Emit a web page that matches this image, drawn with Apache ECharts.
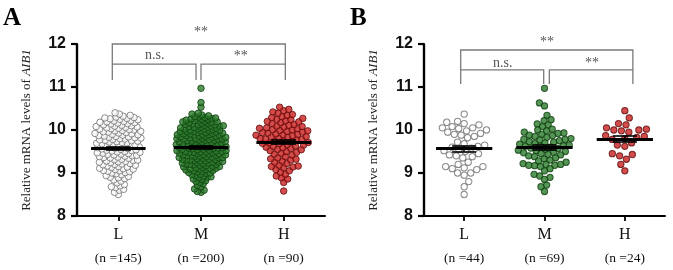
<!DOCTYPE html>
<html><head><meta charset="utf-8">
<script src="https://cdn.jsdelivr.net/npm/echarts@6/dist/echarts.min.js"></script>
<style>html,body{margin:0;padding:0;background:#fff}#c{width:673px;height:270px}</style>
</head><body><div id="c"></div>
<script>
// ---------- data ----------
const categories = ['L', 'M', 'H'];
const yTicks = [8, 9, 10, 11, 12];
const panelTitles = ['A', 'B'];
const sigLabels = ['**', 'n.s.', '**'];

const panelA_L = [8.50,8.55,8.60,8.62,8.66,8.68,8.70,8.73,8.77,8.81,8.84,8.87,8.89,8.90,8.92,8.94,8.96,8.98,
 9.00,9.01,9.03,9.04,9.05,9.06,9.08,9.09,9.10,9.11,9.13,9.14,9.15,9.16,9.18,9.19,
 9.20,9.21,9.22,9.24,9.25,9.26,9.27,9.28,9.29,9.30,9.31,9.32,9.34,9.35,9.36,9.37,9.38,9.39,
 9.40,9.41,9.42,9.43,9.44,9.45,9.46,9.47,9.48,9.49,9.50,9.51,9.52,9.53,9.54,9.55,9.56,9.57,9.58,9.59,
 9.60,9.61,9.62,9.63,9.64,9.65,9.66,9.67,9.68,9.69,9.70,9.71,9.72,9.73,9.74,9.75,9.76,9.77,9.78,9.79,
 9.80,9.81,9.82,9.83,9.84,9.85,9.86,9.87,9.88,9.89,9.90,9.91,9.92,9.93,9.94,9.95,9.96,9.97,9.98,9.99,
 10.00,10.01,10.02,10.03,10.04,10.05,10.06,10.07,10.08,10.09,10.10,10.11,10.12,10.14,10.15,10.16,10.17,10.18,10.19,
 10.20,10.21,10.22,10.24,10.25,10.26,10.27,10.28,10.29,10.30,10.32,10.34,10.37,10.40];
const panelA_M = [8.55,8.57,8.60,8.63,8.68,8.71,8.75,8.78,8.80,8.82,8.85,8.86,8.89,8.90,8.91,8.93,8.94,8.96,8.97,8.99,
 9.00,9.01,9.02,9.04,9.05,9.06,9.07,9.08,9.09,9.10,9.11,9.11,9.12,9.13,9.14,9.15,9.16,9.17,9.18,9.19,
 9.20,9.20,9.21,9.22,9.23,9.23,9.24,9.25,9.26,9.27,9.28,9.28,9.29,
 9.30,9.30,9.31,9.32,9.32,9.33,9.34,9.35,9.36,9.36,9.37,9.38,9.39,9.39,
 9.40,9.40,9.41,9.42,9.42,9.43,9.44,9.45,9.45,9.46,9.47,9.48,9.48,9.49,9.49,
 9.50,9.50,9.51,9.52,9.52,9.53,9.54,9.55,9.55,9.56,9.57,9.58,9.58,9.59,9.59,
 9.60,9.60,9.61,9.62,9.62,9.63,9.64,9.65,9.65,9.66,9.67,9.68,9.68,9.69,9.69,
 9.70,9.71,9.71,9.72,9.73,9.73,9.74,9.75,9.76,9.76,9.77,9.78,9.78,9.79,9.79,
 9.80,9.80,9.81,9.82,9.83,9.83,9.84,9.85,9.85,9.86,9.87,9.88,9.88,9.89,9.89,
 9.90,9.91,9.91,9.92,9.93,9.94,9.94,9.95,9.96,9.96,9.97,9.98,9.98,9.99,
 10.00,10.01,10.02,10.02,10.03,10.04,10.05,10.06,10.06,10.07,10.08,10.09,10.09,
 10.10,10.11,10.12,10.12,10.13,10.14,10.15,10.16,10.17,10.18,10.19,10.19,
 10.20,10.21,10.22,10.23,10.24,10.25,10.26,10.27,10.28,10.29,
 10.30,10.31,10.33,10.35,10.37,10.39,10.53,10.64,10.97];
const panelA_H = [8.58,8.78,8.86,8.89,8.93,8.97,9.02,9.05,9.08,9.12,9.14,9.15,9.16,9.18,9.22,9.25,9.28,
 9.30,9.32,9.33,9.35,9.38,9.42,9.44,9.46,9.48,9.50,9.52,9.54,9.55,9.57,9.59,
 9.60,9.62,9.63,9.65,9.66,9.68,9.69,9.70,9.71,9.73,9.74,9.75,9.77,9.78,9.79,
 9.80,9.81,9.83,9.84,9.85,9.87,9.88,9.89,9.90,9.91,9.93,9.94,9.95,9.97,9.98,9.99,
 10.00,10.01,10.03,10.04,10.05,10.07,10.08,10.09,10.11,10.13,10.15,10.17,10.19,
 10.20,10.22,10.24,10.25,10.27,10.29,10.31,10.34,10.36,10.39,10.42,10.45,10.48,10.53];
const panelB_L = [10.37,10.20,10.18,10.15,10.12,10.08,10.05,10.05,10.03,10.00,
 9.98,9.95,9.92,9.90,9.88,9.85,9.82,9.72,9.68,9.65,
 9.62,9.60,9.58,9.55,9.52,9.50,9.45,9.42,9.40,9.38,
 9.35,9.25,9.20,9.15,9.15,9.12,9.10,9.08,9.00,9.00,8.95,8.80,8.68,8.50];
const panelB_M = [10.97,10.63,10.56,10.34,10.24,10.22,10.14,10.12,10.08,
 10.02,10.00,9.98,9.95,9.93,9.92,9.90,9.88,9.87,9.85,
 9.83,9.80,9.78,9.78,9.77,9.75,9.73,9.72,9.70,9.68,9.67,
 9.65,9.63,9.62,9.62,9.60,9.58,9.57,9.55,9.53,9.52,9.50,
 9.48,9.47,9.45,9.43,9.42,9.40,9.38,9.35,9.33,9.30,
 9.28,9.25,9.22,9.20,9.20,9.18,9.18,9.17,9.15,9.10,
 9.05,8.97,8.93,8.90,8.85,8.72,8.68,8.57];
const panelB_H = [10.45,10.28,10.15,10.12,10.05,10.02,10.00,10.00,9.98,9.95,9.87,9.85,
 9.83,9.80,9.78,9.70,9.65,9.62,9.45,9.43,9.40,9.32,9.20,9.05];

// ---------- layout / style ----------
const panels = [
  { groups: [panelA_L, panelA_M, panelA_H], grid: {left: 77, top: 44, width: 248, height: 172},
    sym: 6.5, gap: 0.3, maxW: [58, 58, 62], meanHalf: 0.33,
    brackets: [[[-0.073,11.16],[-0.073,12.0],[2.02,12.0],[2.02,11.16]],
               [[-0.073,11.53],[0.94,11.53],[0.94,11.16]],
               [[1.0,11.16],[1.0,11.53],[2.02,11.53]]],
    labelPos: [[1.0,12.27],[0.44,11.74],[1.48,11.72]] },
  { groups: [panelB_L, panelB_M, panelB_H], grid: {left: 424, top: 44, width: 241, height: 172},
    sym: 6.3, gap: 3.2, maxW: [54, 60, 50], meanHalf: 0.35,
    brackets: [[[-0.043,11.07],[-0.043,11.86],[2.1,11.86],[2.1,11.07]],
               [[-0.043,11.4],[0.99,11.4],[0.99,11.07]],
               [[1.06,11.07],[1.06,11.4],[2.1,11.4]]],
    labelPos: [[1.03,12.04],[0.48,11.56],[1.59,11.54]] }
];
const groupStyles = [
  {color: '#ffffff', borderColor: '#6e6e6e', borderWidth: 1},
  {color: '#2b7a2b', borderColor: '#0f3f0f', borderWidth: 1},
  {color: '#c8201f', borderColor: '#5e0b0b', borderWidth: 1}
];
const axisColor = '#000';
const X0 = 0.5;
const tickLen = 6;

function swarm(values, pxY, size, gap, maxW) {
  let d = size + gap;
  let res;
  while (true) {
    const order = values.map((v, i) => i).sort((a, b) => values[a] - values[b]);
    const placed = [];
    res = new Array(values.length);
    let flip = 1;
    for (const i of order) {
      const y = values[i] * pxY;
      const iv = [];
      for (const p of placed) {
        const dy = Math.abs(p.y - y);
        if (dy < d) { const w = Math.sqrt(d * d - dy * dy); iv.push([p.x - w, p.x + w]); }
      }
      const cands = [0];
      iv.forEach(a => { cands.push(a[0], a[1]); });
      cands.sort((a, b) => (Math.abs(a) - Math.abs(b)) || (flip * (b - a)));
      let x = 0;
      for (const c of cands) {
        if (!iv.some(a => c > a[0] + 1e-6 && c < a[1] - 1e-6)) { x = c; break; }
      }
      flip = -flip;
      placed.push({x, y});
      res[i] = x;
    }
    const w = 2 * Math.max(...res.map(Math.abs)) + size;
    if (w <= maxW || d < 2) break;
    d -= 0.1;
  }
  return res;
}
const mean = a => a.reduce((s, v) => s + v, 0) / a.length;
const sem = a => { const m = mean(a); const sd = Math.sqrt(a.reduce((s, v) => s + (v - m) * (v - m), 0) / (a.length - 1)); return sd / Math.sqrt(a.length); };
const sx = pt => [pt[0] + X0, pt[1]];

const chart = echarts.init(document.getElementById('c'), null, {renderer: 'canvas'});
const serif = '"Liberation Serif","Times New Roman",serif';

const xAxes = [], yAxes = [], grids = [], series = [];
panels.forEach((P, pi) => {
  grids.push(Object.assign({}, P.grid));
  xAxes.push({
    type: 'category', gridIndex: pi, data: categories, position: 'bottom',
    axisLine: {show: true, onZero: false, lineStyle: {color: axisColor, width: 2}},
    axisTick: {show: true, alignWithLabel: true, length: 5, lineStyle: {color: axisColor, width: 1.8}},
    axisLabel: {
      margin: 8,
      formatter: (v, idx) => '{a|' + v + '}\n{b|(n =' + P.groups[idx].length + ')}',
      rich: {
        a: {fontFamily: serif, fontSize: 16, color: '#111', lineHeight: 22},
        b: {fontFamily: serif, fontSize: 13.5, color: '#111', lineHeight: 24}
      }
    },
    splitLine: {show: false}
  });
  yAxes.push({
    type: 'value', gridIndex: pi, position: 'left',
    min: yTicks[0], max: yTicks[yTicks.length - 1], interval: 1,
    axisLine: {show: true, lineStyle: {color: axisColor, width: 2.2}},
    axisTick: {show: true, length: tickLen, lineStyle: {color: axisColor, width: 2}},
    axisLabel: {margin: 11, fontFamily: '"Liberation Sans",Arial,sans-serif', fontWeight: 'bold', fontSize: 16, color: '#111'},
    splitLine: {show: false},
    name: '{n|Relative mRNA levels of }{i|AIB1}',
    nameLocation: 'middle', nameGap: 44,
    nameTextStyle: {
      rich: {
        n: {fontFamily: serif, fontSize: 13, color: '#222'},
        i: {fontFamily: serif, fontSize: 13, color: '#222', fontStyle: 'italic'}
      }
    }
  });
});
panels.forEach((P, pi) => {
  xAxes.push({type: 'value', gridIndex: pi, min: 0, max: 3, show: false,
    axisLine: {show: false}, axisTick: {show: false}, axisLabel: {show: false}, splitLine: {show: false}});
});

chart.setOption({animation: false, grid: grids, xAxis: xAxes, yAxis: yAxes, series: []});

const graphics = [];
panels.forEach((P, pi) => {
  const ax = {xAxisIndex: 2 + pi, yAxisIndex: pi};
  const p0 = chart.convertToPixel(ax, [0, 8]);
  const p1 = chart.convertToPixel(ax, [1, 9]);
  const pxX = Math.abs(p1[0] - p0[0]);
  const pxY = Math.abs(p1[1] - p0[1]);
  P.groups.forEach((vals, gi) => {
    const offs = swarm(vals, pxY, P.sym, P.gap, P.maxW[gi]);
    series.push(Object.assign({
      type: 'scatter', symbolSize: P.sym, z: 2,
      itemStyle: groupStyles[gi],
      data: vals.map((v, i) => [gi + X0 + offs[i] / pxX, v])
    }, ax));
    const m = mean(vals), s = sem(vals);
    series.push(Object.assign({
      type: 'lines', coordinateSystem: 'cartesian2d', z: 5, clip: false,
      lineStyle: {color: '#000', width: 3, opacity: 1},
      data: [{coords: [sx([gi - P.meanHalf, m]), sx([gi + P.meanHalf, m])]}]
    }, ax));
    series.push(Object.assign({
      type: 'lines', coordinateSystem: 'cartesian2d', z: 5, clip: false,
      lineStyle: {color: '#000', width: 1.6, opacity: 1},
      data: [
        {coords: [sx([gi, m - s]), sx([gi, m + s])]},
        {coords: [sx([gi - 0.15, m - s]), sx([gi + 0.15, m - s])]},
        {coords: [sx([gi - 0.15, m + s]), sx([gi + 0.15, m + s])]}
      ]
    }, ax));
  });
  series.push(Object.assign({
    type: 'lines', coordinateSystem: 'cartesian2d', polyline: true, z: 4, clip: false,
    lineStyle: {color: '#7a7a7a', width: 1.3, opacity: 1},
    data: P.brackets.map(b => ({coords: b.map(sx)}))
  }, ax));

  // left value-axis line and ticks, reinforced at the scale's tick values
  const yMin = yTicks[0], yMax = yTicks[yTicks.length - 1];
  const tx = -tickLen / pxX;
  series.push(Object.assign({
    type: 'lines', coordinateSystem: 'cartesian2d', z: 6, clip: false, silent: true,
    lineStyle: {color: axisColor, width: 2.2, opacity: 1},
    data: [{coords: [[0, yMin], [0, yMax]]}].concat(yTicks.map(t => ({coords: [[tx, t], [0, t]]})))
  }, ax));

  P.labelPos.forEach((lp, li) => {
    const px = chart.convertToPixel(ax, sx(lp));
    graphics.push({type: 'text', x: px[0], y: px[1], z: 10,
      style: {text: sigLabels[li], fontFamily: serif, fontSize: 14, fill: '#555', textAlign: 'center', textVerticalAlign: 'middle'}});
  });
  graphics.push({type: 'text', x: P.grid.left - 74, y: 6, z: 10,
    style: {text: panelTitles[pi], fontFamily: serif, fontWeight: 'bold', fontSize: 25, fill: '#000'}});
});

chart.setOption({series: series, graphic: graphics});
</script>
</body></html>
